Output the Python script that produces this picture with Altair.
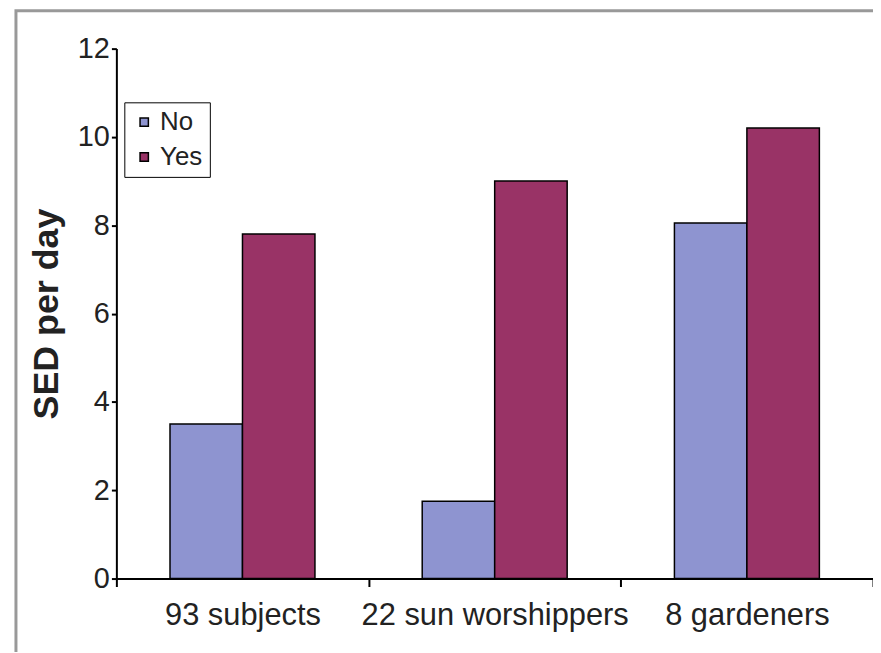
import altair as alt
import pandas as pd

groups = ["93 subjects", "22 sun worshippers", "8 gardeners"]
series = ["No", "Yes"]
no_values = [3.5, 1.75, 8.05]
yes_values = [7.8, 9.0, 10.2]
y_ticks = [0, 2, 4, 6, 8, 10, 12]
colors = ["#8e94d0", "#993366"]

rows = []
for g, n, y in zip(groups, no_values, yes_values):
    rows.append({"group": g, "answer": "No", "sed": n})
    rows.append({"group": g, "answer": "Yes", "sed": y})
df = pd.DataFrame(rows)

W, H = 761, 533
FONT = "Liberation Sans"

bars = alt.Chart(df).mark_bar(stroke="black", strokeWidth=1.5).encode(
    x=alt.X("group:N", sort=groups,
            scale=alt.Scale(paddingInner=0, paddingOuter=0),
            axis=alt.Axis(title=None, labelAngle=0, labelFontSize=31,
                          labelFont=FONT, labelColor="#222", labelLimit=0,
                          labelPadding=14, tickBand="extent", tickSize=8,
                          tickColor="black", domainColor="black",
                          domainWidth=2, tickWidth=2)),
    xOffset=alt.XOffset("answer:N", sort=series,
                        scale=alt.Scale(paddingInner=0, paddingOuter=0.74)),
    y=alt.Y("sed:Q", scale=alt.Scale(domain=[0, 12], nice=False),
            axis=alt.Axis(values=y_ticks, title="SED per day", grid=False,
                          labelFontSize=29, labelFont=FONT,
                          labelColor="#222", titleFontSize=36,
                          titleFont=FONT, titleFontWeight="bold",
                          titleColor="#222", titlePadding=12, tickSize=5,
                          tickColor="black", domainColor="black",
                          domainWidth=2, tickWidth=2, labelPadding=2)),
    color=alt.Color("answer:N", sort=series,
                    scale=alt.Scale(domain=series, range=colors),
                    legend=alt.Legend(title=None, orient="none", legendX=8,
                                      legendY=54, symbolType="square",
                                      symbolSize=70, symbolStrokeColor="black",
                                      symbolStrokeWidth=1.5,
                                      labelFontSize=26,
                                      labelFont=FONT,
                                      labelColor="#222",
                                      strokeColor="black", padding=7,
                                      rowPadding=9, labelOffset=3,
                                      fillColor="white")),
)

frame = alt.Chart(pd.DataFrame({"k": [0]})).mark_rect(
    fill=None, stroke="#999999", strokeWidth=3, clip=False
).encode(
    x=alt.value(-101), x2=alt.value(W + 20),
    y=alt.value(-38), y2=alt.value(H + 120),
)

chart = alt.layer(frame, bars).properties(
    width=W, height=H,
    background="white",
    autosize=alt.AutoSizeParams(type="none"),
    padding={"left": 109, "top": 39, "right": 0, "bottom": 72},
).configure_view(stroke=None)

chart.save("out.html", embed_options={"renderer": "svg", "actions": False})
